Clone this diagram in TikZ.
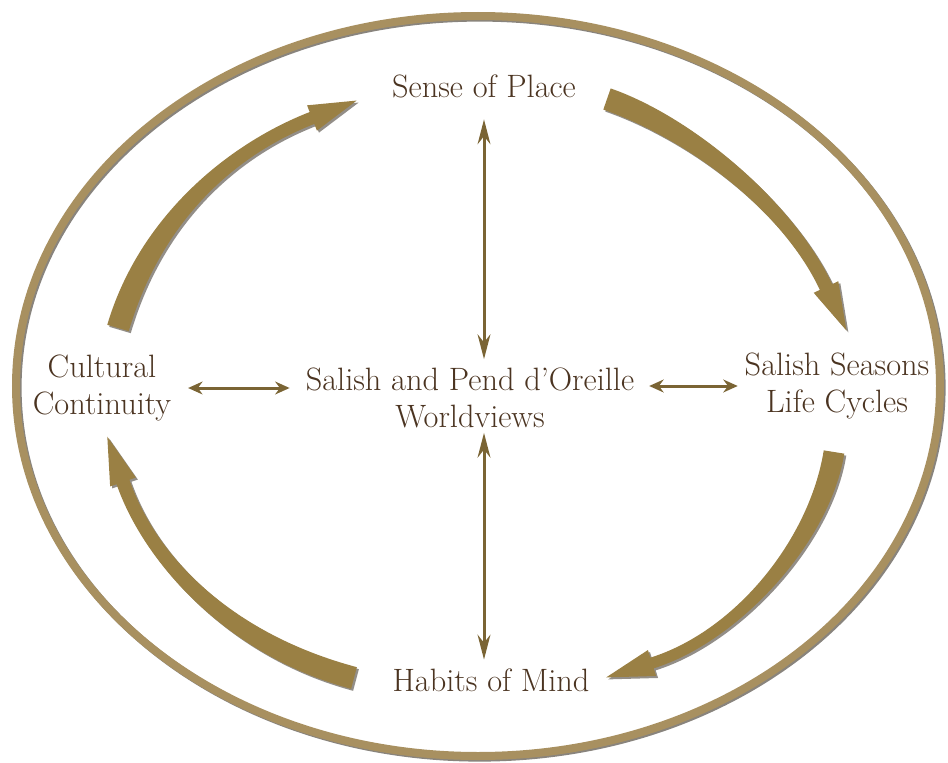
\documentclass[tikz,border=0pt]{standalone}
\usetikzlibrary{arrows.meta,positioning,calc}
\definecolor{ringgold}{HTML}{A89060}
\definecolor{arrowgold}{HTML}{9A8044}
\definecolor{thingold}{HTML}{7A6434}
\definecolor{textbrown}{HTML}{4B3421}
\definecolor{shade}{HTML}{3A3226}

% tapered cycle arrow: #1 tail, #2 and #3 controls, #4 neck, #5 half width at tail, #6 half width at neck
\newcommand{\cyclearc}[6]{%
    \path ($(#1)!#5!90:(#2)$) coordinate (l0)
          ($(#1)!#5!-90:(#2)$) coordinate (r0)
          ($(#4)!#6!-90:(#3)$) coordinate (l1)
          ($(#4)!#6!90:(#3)$) coordinate (r1)
          ($(#4)!0.34cm!-90:(#3)$) coordinate (hl)
          ($(#4)!0.34cm!90:(#3)$) coordinate (hr)
          ($(#4)!-1.2cm!(#3)$) coordinate (tip);
    \foreach \sty in {arcshadow,arcbody}{
        \fill[\sty] (l0) .. controls ($(#2)+(l0)-(#1)$) and ($(#3)+(l1)-(#4)$) .. (l1)
            -- (hl) -- (tip) -- (hr) -- (r1)
            .. controls ($(#3)+(r1)-(#4)$) and ($(#2)+(r0)-(#1)$) .. (r0) -- cycle;
    }
}

\begin{document}
\begin{tikzpicture}[
    x=0.025cm,
    y=-0.025cm,
    conceptnode/.style={
        text=textbrown,
        align=center,
        font=\fontsize{23}{26}\selectfont
    },
    ring/.style={
        draw=ringgold,
        line width=0.2cm,
        preaction={draw=shade, opacity=0.6, line width=0.2cm,
            transform canvas={shift={(0.04cm,-0.04cm)}}}
    },
    biarrow/.style={
        draw=thingold,
        line width=0.075cm,
        {Stealth[length=0.62cm,width=0.32cm]}-{Stealth[length=0.62cm,width=0.32cm]}
    },
    sidearrow/.style={
        biarrow,
        {Stealth[length=0.36cm,width=0.32cm]}-{Stealth[length=0.36cm,width=0.32cm]}
    },
    arcshadow/.style={
        fill=shade,
        opacity=0.55,
        transform canvas={shift={(0.05cm,-0.05cm)}}
    },
    arcbody/.style={fill=arrowgold}
]
\useasboundingbox (0,0) rectangle (948,763);

% Outer ring
\draw[ring] (478,386) ellipse [x radius=462, y radius=370];

% Concepts
\node[conceptnode] (world) at (470,398) {Salish and Pend d'Oreille\\Worldviews};
\node[conceptnode] (place) at (484,86) {Sense of Place};
\node[conceptnode] (culture) at (102,388) {Cultural\\Continuity};
\node[conceptnode] (seasons) at (837,386) {Salish Seasons\\Life Cycles};
\node[conceptnode] (mind) at (491,680) {Habits of Mind};

% Links to the centre
\draw[biarrow, shorten <=0.42cm, shorten >=0.1cm] (place.south) -- (place.south |- world.north);
\draw[biarrow, shorten <=0cm, shorten >=0.1cm] (place.south |- world.south) -- (place.south |- mind.north);
\draw[sidearrow, shorten <=0.3cm, shorten >=0.28cm] (culture.east) -- (culture.east -| world.west);
\draw[sidearrow, shorten <=0.25cm, shorten >=0.05cm] (world.east |- seasons) -- (seasons.west);

% Cycle ends and bends
\coordinate (c1tail) at (118,328);
\coordinate (c1a) at (150,220);
\coordinate (c1b) at (230,150);
\coordinate (c1neck) at (312,118);
\coordinate (c2tail) at (607,99);
\coordinate (c2a) at (690,128);
\coordinate (c2b) at (788,206);
\coordinate (c2neck) at (826,287);
\coordinate (c3tail) at (834,452);
\coordinate (c3a) at (820,540);
\coordinate (c3b) at (738,636);
\coordinate (c3neck) at (652,663);
\coordinate (c4tail) at (354,678);
\coordinate (c4a) at (230,645);
\coordinate (c4b) at (150,560);
\coordinate (c4neck) at (123,482);

% Cycle arrows
\cyclearc{c1tail}{c1a}{c1b}{c1neck}{0.28cm}{0.16cm}
\cyclearc{c2tail}{c2a}{c2b}{c2neck}{0.28cm}{0.17cm}
\cyclearc{c3tail}{c3a}{c3b}{c3neck}{0.26cm}{0.14cm}
\cyclearc{c4tail}{c4a}{c4b}{c4neck}{0.28cm}{0.17cm}

\end{tikzpicture}
\end{document}
